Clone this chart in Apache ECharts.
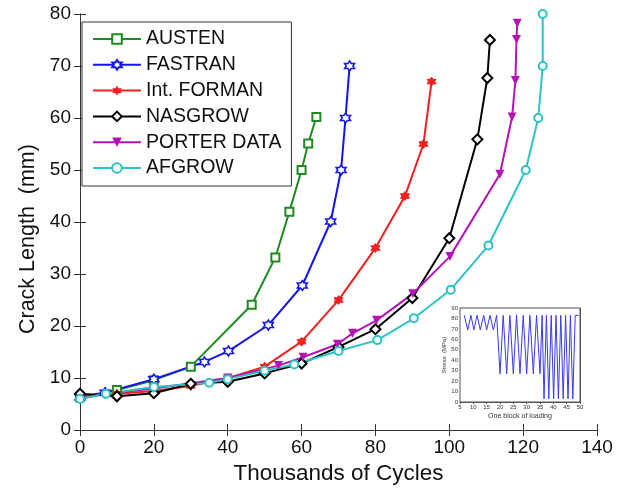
<!DOCTYPE html>
<html><head><meta charset="utf-8">
<script src="https://cdn.jsdelivr.net/npm/echarts@6/dist/echarts.min.js"></script>
<style>html,body{margin:0;padding:0;background:#fff}#c{width:630px;height:490px}</style>
</head><body><div id="c"></div>
<script>
// ---- data ----
const xTicks = [0, 20, 40, 60, 80, 100, 120, 140];
const yTicks = [0, 10, 20, 30, 40, 50, 60, 70, 80];
const seriesNames = ['AUSTEN', 'FASTRAN', 'Int. FORMAN', 'NASGROW', 'PORTER DATA', 'AFGROW'];
const austen = [[0,6.3],[10,7.7],[20,9.6],[30,12.2],[46.5,24.1],[52.9,33.2],[56.7,42],[60,50],[61.8,55.1],[64,60.2]];
const fastran = [[0,6.3],[6.8,7.2],[20,9.8],[33.7,13.1],[40.2,15.2],[51,20.2],[60.2,27.8],[67.9,40.1],[70.7,50],[71.9,60],[73,70]];
const forman = [[0,6.5],[10,7],[20,7.5],[30,8.5],[40,10],[50,12.2],[60,17],[70,25],[80,35],[88,45],[93,55],[95.2,67]];
const nasgrow = [[0,7],[10,6.5],[20,7.1],[30,8.9],[40,9.3],[50,10.9],[60,12.8],[70,16],[80,19.4],[90,25.4],[100,36.9],[107.6,55.9],[110.3,67.7],[111,75]];
const porter = [[0,6],[7,7],[20,8],[40,10],[53.7,12.4],[60.4,14],[69.7,16.5],[73.8,18.6],[80.3,21.1],[90.1,26.2],[100.2,33.4],[113.7,49.2],[117,60.2],[117.9,67.2],[118.2,75.1],[118.4,78.2]];
const afgrow = [[0,6],[7,7],[20,8.3],[35,9.1],[40,9.8],[50,11.4],[58,12.6],[70,15.2],[80.5,17.3],[90.4,21.5],[100.4,27],[110.6,35.5],[120.7,50],[124.1,60],[125.3,70],[125.3,80]];
// inset: one block of loading (stress, MPa)
const insetBlock = [6.6,7.9,9.1,10.2,11.4,12.6,13.9,15,16.25,17.5,18.75,20,21.2,22.5,23.7,25,26.2,27.5,28.7,30,31.2,32.5,33.7,35,35.8,36.5,37.4,38.3,39.2,40.1,41,41.9,42.8,43.7,44.6,45.5,46.4,47.3,48.2,49.5];
const insetStress = [83,69,83,69,83,69,83,69,83,69,83,27,83,27,83,27,83,27,83,27,83,27,83,27,83,3,83,3,83,3,83,3,83,3,83,3,83,3,83,83];

const colors = ['#1f8a1f', '#1414f0', '#f02020', '#000000', '#b414b4', '#2ec2c2'];
const FONT = 'Liberation Sans, Arial, sans-serif';
const hexStar = 'path://M0,-10 L2.9,-5 L8.7,-5 L5.8,0 L8.7,5 L2.9,5 L0,10 L-2.9,5 L-8.7,5 L-5.8,0 L-8.7,-5 L-2.9,-5 Z';

const markers = [
  {symbol: 'emptyRect', symbolSize: 8, itemStyle: {borderWidth: 1.5}},
  {symbol: hexStar, symbolSize: 10, itemStyle: {color: '#ffffff', borderColor: colors[1], borderWidth: 1.5}},
  {symbol: hexStar, symbolSize: 9, itemStyle: {color: colors[2], borderColor: colors[2]}},
  {symbol: 'emptyDiamond', symbolSize: 10, itemStyle: {borderWidth: 1.5}},
  {symbol: 'triangle', symbolSize: 9, symbolRotate: 180, itemStyle: {color: colors[4]}},
  {symbol: 'emptyCircle', symbolSize: 8, itemStyle: {borderWidth: 1.5}}
];
const datasets = [austen, fastran, forman, nasgrow, porter, afgrow];

const mainSeries = datasets.map((d, i) => Object.assign({
  name: seriesNames[i], type: 'line', xAxisIndex: 0, yAxisIndex: 0,
  data: d, color: colors[i], lineStyle: {color: colors[i], width: 2},
  animation: false, z: 3
}, markers[i]));

const axisLineStyle = {color: '#333', width: 1};

const option = {
  animation: false,
  backgroundColor: '#fff',
  textStyle: {fontFamily: FONT},
  grid: [
    {left: 80, right: 33, top: 14, bottom: 58, containLabel: false},
    {left: 460, right: 50, top: 308, bottom: 88, show: true, backgroundColor: '#fff', borderColor: '#555', borderWidth: 1, z: 5}
  ],
  legend: {
    data: seriesNames, orient: 'vertical', left: 82, top: 22,
    itemWidth: 48, itemHeight: 12, itemGap: 5.8,
    padding: [7, 10, 8, 10],
    borderColor: '#333', borderWidth: 1, backgroundColor: '#fff',
    textStyle: {fontSize: 19.5, lineHeight: 19, color: '#111', fontFamily: FONT}
  },
  xAxis: [
    {type: 'value', gridIndex: 0, min: xTicks[0], max: xTicks[xTicks.length-1], interval: 20, position: 'bottom',
     axisLine: {show: true, lineStyle: axisLineStyle}, axisTick: {show: true, inside: true, length: 6, lineStyle: axisLineStyle},
     splitLine: {show: false}, axisLabel: {fontSize: 19, color: '#111', margin: 8, fontFamily: FONT},
     name: 'Thousands of Cycles', nameLocation: 'middle', nameGap: 31,
     nameTextStyle: {fontSize: 22.5, color: '#111', fontFamily: FONT}},
    {type: 'value', gridIndex: 0, min: xTicks[0], max: xTicks[xTicks.length-1], interval: 20, position: 'top',
     axisLine: {show: true, lineStyle: axisLineStyle}, axisTick: {show: true, inside: true, length: 6, lineStyle: axisLineStyle},
     splitLine: {show: false}, axisLabel: {show: false}},
    {type: 'value', gridIndex: 1, min: 5, max: 50, interval: 5, position: 'bottom',
     axisLine: {show: true, lineStyle: {color: '#555', width: 1}}, axisTick: {show: true, inside: true, length: 2, lineStyle: {color: '#555'}},
     splitLine: {show: false}, axisLabel: {fontSize: 6, color: '#333', margin: 2, fontFamily: FONT},
     name: 'One block of loading', nameLocation: 'middle', nameGap: 11,
     nameTextStyle: {fontSize: 7, color: '#333', fontFamily: FONT}},
    {type: 'value', gridIndex: 1, min: 5, max: 50, interval: 5, position: 'top',
     axisLine: {show: true, lineStyle: {color: '#555', width: 1}}, axisTick: {show: true, inside: true, length: 2, lineStyle: {color: '#555'}},
     splitLine: {show: false}, axisLabel: {show: false}}
  ],
  yAxis: [
    {type: 'value', gridIndex: 0, min: yTicks[0], max: yTicks[yTicks.length-1], interval: 10, position: 'left',
     axisLine: {show: true, lineStyle: axisLineStyle}, axisTick: {show: true, inside: true, length: 6, lineStyle: axisLineStyle},
     splitLine: {show: false}, axisLabel: {fontSize: 19, color: '#111', margin: 9, fontFamily: FONT},
     name: 'Crack Length  (mm)', nameLocation: 'middle', nameGap: 41, nameRotate: 90,
     nameTextStyle: {fontSize: 21.5, color: '#111', fontFamily: FONT, padding: [0, 34, 0, 0]}},
    {type: 'value', gridIndex: 0, min: yTicks[0], max: yTicks[yTicks.length-1], interval: 10, position: 'right',
     axisLine: {show: true, lineStyle: axisLineStyle}, axisTick: {show: true, inside: true, length: 6, lineStyle: axisLineStyle},
     splitLine: {show: false}, axisLabel: {show: false}},
    {type: 'value', gridIndex: 1, min: 0, max: 90, interval: 10, position: 'left',
     axisLine: {show: true, lineStyle: {color: '#555', width: 1}}, axisTick: {show: true, inside: true, length: 2, lineStyle: {color: '#555'}},
     splitLine: {show: false}, axisLabel: {fontSize: 6, color: '#333', margin: 2, fontFamily: FONT},
     name: 'Stress  (MPa)', nameLocation: 'middle', nameGap: 11, nameRotate: 90,
     nameTextStyle: {fontSize: 6, color: '#333', fontFamily: FONT}},
    {type: 'value', gridIndex: 1, min: 0, max: 90, interval: 10, position: 'right',
     axisLine: {show: true, lineStyle: {color: '#555', width: 1}}, axisTick: {show: true, inside: true, length: 2, lineStyle: {color: '#555'}},
     splitLine: {show: false}, axisLabel: {show: false}}
  ],
  series: mainSeries.concat([{
    name: 'inset', type: 'line', xAxisIndex: 2, yAxisIndex: 2,
    data: insetBlock.map((x, i) => [x, insetStress[i]]),
    showSymbol: false, symbol: 'none', lineStyle: {color: '#3a3af0', width: 1}, color: '#3a3af0', z: 6
  }])
};

const chart = echarts.init(document.getElementById('c'), null, {renderer: 'canvas'});
chart.setOption(option);
</script>
</body></html>
